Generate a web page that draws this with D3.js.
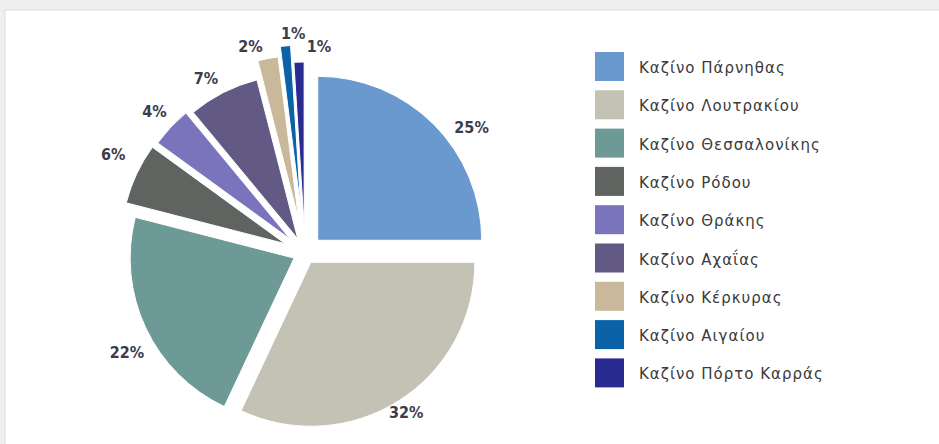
<!DOCTYPE html>
<html>
<head>
<meta charset="utf-8">
<script src="https://cdn.jsdelivr.net/npm/d3@7/dist/d3.min.js"></script>
<style>
  html, body { margin: 0; padding: 0; background: #f2f2f2; }
  svg { display: block; }
</style>
</head>
<body>
<svg id="chart" width="939" height="444"></svg>
<script>
const categories = [
  "Καζίνο Πάρνηθας",
  "Καζίνο Λουτρακίου",
  "Καζίνο Θεσσαλονίκης",
  "Καζίνο Ρόδου",
  "Καζίνο Θράκης",
  "Καζίνο Αχαΐας",
  "Καζίνο Κέρκυρας",
  "Καζίνο Αιγαίου",
  "Καζίνο Πόρτο Καρράς"
];
const shares = [25, 32, 22, 6, 4, 7, 2, 1, 1];
const colors = ["#6a99d0", "#c4c2b5", "#6d9a96", "#5f6461", "#7a74bd", "#625985", "#c9b99a", "#0a62a8", "#2a2b90"];
// explosion distance of each slice (px)
const explode = [18, 11, 12, 22, 20, 16, 34, 44, 27];
// label placement tweaks: angular shift (deg) and gap from slice edge (px)
const labelShift = [8, 0, -4, 2, 0, -2.5, -4, 2.3, 5.7];
const labelGap = [8, -2, 9, 15, 8, 8, 5, 3, 7];

const svg = d3.select("#chart");
const W = 939, H = 444;

// panel
svg.append("rect").attr("x", 0).attr("y", 0).attr("width", W).attr("height", H).attr("fill", "#efefef");
svg.append("rect").attr("x", 5).attr("y", 10).attr("width", W).attr("height", H)
  .attr("fill", "#ffffff").attr("stroke", "#dcdcdc").attr("stroke-width", 1);

const cx = 305, cy = 253, R = 164;
const data = categories.map((c, i) => ({ name: c, value: shares[i], color: colors[i], ex: explode[i], i }));

const pie = d3.pie().sort(null).value(d => d.value);
const arc = d3.arc().innerRadius(0).outerRadius(R);
const arcs = pie(data);

const g = svg.append("g").attr("transform", `translate(${cx},${cy})`);

g.selectAll("path.slice").data(arcs).join("path")
  .attr("class", "slice")
  .attr("d", arc)
  .attr("fill", d => d.data.color)
  .attr("stroke", "#ffffff")
  .attr("stroke-width", 1)
  .attr("transform", d => {
    const a = (d.startAngle + d.endAngle) / 2;
    return `translate(${Math.sin(a) * d.data.ex},${-Math.cos(a) * d.data.ex})`;
  });

// labels
const lblFont = 16, lblH = 16;
g.selectAll("text.lbl").data(arcs).join("text")
  .attr("class", "lbl")
  .attr("font-family", "'DejaVu Sans Condensed', 'DejaVu Sans', sans-serif")
  .attr("font-weight", "bold")
  .attr("font-size", lblFont)
  .attr("fill", "#3c3c4a")
  .attr("text-anchor", "middle")
  .attr("dominant-baseline", "central")
  .text(d => d.data.value + "%")
  .each(function(d) {
    const i = d.data.i;
    const a = (d.startAngle + d.endAngle) / 2 + labelShift[i] * Math.PI / 180;
    const dx = Math.sin(a), dy = -Math.cos(a);
    const w = this.getComputedTextLength();
    const t = R + d.data.ex + labelGap[i] + Math.abs(dx) * w / 2 + Math.abs(dy) * lblH / 2;
    d3.select(this).attr("x", dx * t).attr("y", dy * t);
  });

// legend
const lg = svg.append("g").attr("transform", "translate(595,52)");
const rowH = 38.3;
const items = lg.selectAll("g.item").data(data).join("g")
  .attr("class", "item")
  .attr("transform", (d, i) => `translate(0,${i * rowH})`);
items.append("rect").attr("width", 29).attr("height", 29).attr("fill", d => d.color);
items.append("text")
  .attr("x", 44).attr("y", 16)
  .attr("dominant-baseline", "central")
  .attr("font-family", "'DejaVu Sans', sans-serif")
  .attr("font-size", 15)
  .attr("letter-spacing", 1)
  .attr("fill", "#3a3a3a")
  .text(d => d.name);
</script>
</body>
</html>
